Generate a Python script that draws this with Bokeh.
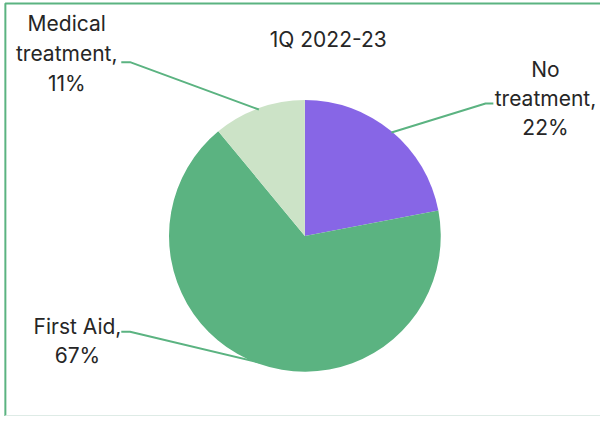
import math
from bokeh.plotting import figure
from bokeh.models import Range1d, ColumnDataSource
from bokeh.core.properties import value
from bokeh.embed import file_html
from bokeh.resources import INLINE

# ---- data ----
title_text = "1Q 2022-23"
categories = ["No treatment", "First Aid", "Medical treatment"]
shares = [22, 67, 11]
pct_labels = ["22%", "67%", "11%"]
colors = ["#8766E6", "#5BB381", "#CCE3C7"]

# label lines (text split as in the reference)
label_lines = [["No", "treatment,", "22%"], ["First Aid,", "67%"], ["Medical", "treatment,", "11%"]]

FONT = "Inter"
TXT = "#262626"
GREEN = "#5BB381"

W, H = 600, 416
# data coordinates follow the reference picture's pixel grid (y flipped)
def Y(py):
    return 432 - py

p = figure(width=W, height=H, output_backend="svg", toolbar_location=None,
           x_range=Range1d(0, 616), y_range=Range1d(0, 432),
           min_border=0, min_border_left=0, min_border_right=0,
           min_border_top=0, min_border_bottom=0)
p.axis.visible = False
p.grid.visible = False
p.outline_line_color = None
p.background_fill_color = "white"
p.border_fill_color = "white"

cx, cy, r = 312.5, Y(244.5), 139.5

total = float(sum(shares))
starts, ends, mids = [], [], []
cum = 0.0
for s in shares:
    a0 = math.pi / 2 - 2 * math.pi * (cum + s) / total
    a1 = math.pi / 2 - 2 * math.pi * cum / total
    starts.append(a0)
    ends.append(a1)
    mids.append((a0 + a1) / 2)
    cum += s

src = ColumnDataSource(dict(start=starts, end=ends, color=colors, cat=categories))
p.wedge(x=cx, y=cy, radius=r, start_angle="start", end_angle="end",
        fill_color="color", line_color=None, source=src)

# label layout
layout = [
    dict(tx=559.5, ty=72, step=30, hx=(506, 498), hy=107),   # No treatment
    dict(tx=79, ty=339, step=30, hx=(124, 133), hy=344),     # First Aid
    dict(tx=68, ty=24, step=31, hx=(124, 133), hy=64),       # Medical
]

for i, (lines, lay) in enumerate(zip(label_lines, layout)):
    xs = [lay["tx"]] * len(lines)
    ys = [Y(lay["ty"] + k * lay["step"]) for k in range(len(lines))]
    p.text(x=xs, y=ys, text=lines, text_align="center", text_baseline="middle",
           text_font=value(FONT), text_font_size="21px", text_color=TXT)
    # leader line: from rim at slice mid-angle to elbow, then short horizontal
    rx = cx + r * math.cos(mids[i])
    ry = cy + r * math.sin(mids[i])
    ex, hx = lay["hx"][1], lay["hx"][0]
    p.line(x=[rx, ex, hx], y=[ry, Y(lay["hy"]), Y(lay["hy"])],
           line_color=GREEN, line_width=2)

p.text(x=[336.5], y=[Y(41)], text=[title_text], text_align="center",
       text_baseline="middle", text_font=value(FONT), text_font_size="21px",
       text_color=TXT)

# chart border (top & left visible in reference)
p.line(x=[5, 5, 616], y=[0, Y(3), Y(3)], line_color=GREEN, line_width=2)
p.line(x=[5, 616], y=[1, 1], line_color="#DDEBE6", line_width=1)

open("out.html", "w").write(file_html(p, INLINE))
